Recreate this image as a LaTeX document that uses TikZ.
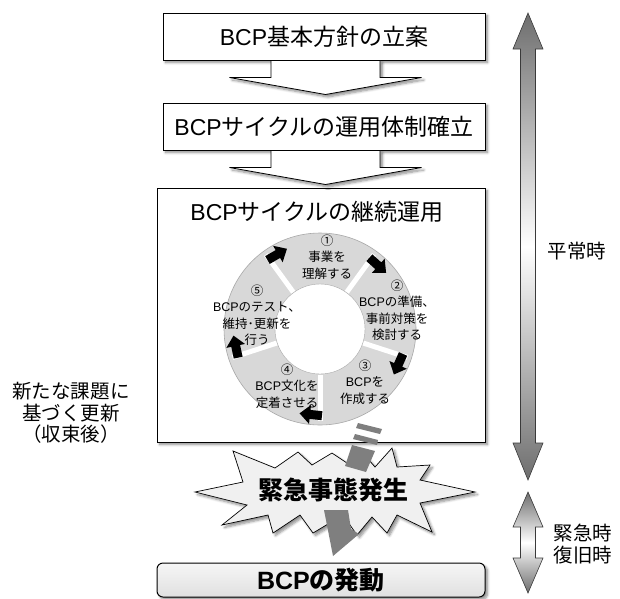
\documentclass[tikz,border=0pt]{standalone}
\usepackage{fontspec}
\setmainfont{Noto Sans CJK JP}
\newfontfamily\latf{Liberation Sans}
\newcommand\bcpword{{\latf BCP}}
\usetikzlibrary{shadows,shadows.blur,calc}
\definecolor{ringgray}{HTML}{D8D8D8}
\definecolor{ringedge}{HTML}{A8A8A8}
\definecolor{boltgray}{HTML}{7F7F7F}
\definecolor{arrowdark}{HTML}{6E6E6E}
\definecolor{arrowedge}{HTML}{3A3A3A}
\definecolor{starfill}{HTML}{F0F0F0}
\definecolor{bfourtop}{HTML}{F6F6F6}
\definecolor{bfourbot}{HTML}{E0E0E0}
\tikzset{
  myshadow/.style={blur shadow={shadow xshift=2.5pt,shadow yshift=-2.5pt,
    shadow blur radius=2.5pt, shadow blur steps=6, shadow opacity=45}},
  box/.style={draw=black, line width=1pt, fill=white, myshadow, minimum width=322pt,
    minimum height=47pt, inner sep=0pt, font=\fontsize{23}{27}\selectfont},
  chev/.style={draw=black, line width=0.8pt, fill=white, myshadow},
  ringtxt/.style={align=center, font=\fontsize{12.5}{16.5}\selectfont, inner sep=0pt},
  sidelbl/.style={align=center, font=\fontsize{19.5}{21.5}\selectfont, inner sep=0pt},
  bolt/.style={fill=boltgray, draw=none},
  blockarrow/.style={fill=black},
  timearrow/.style={draw=arrowedge, line width=0.6pt, top color=arrowdark,
    bottom color=arrowdark, middle color=white},
}
\begin{document}
\begin{tikzpicture}[x=1pt,y=1pt]
\useasboundingbox (0,0) rectangle (620,-598);

% boxes
\node[box] (b1) at (324,-36.5) {\bcpword 基本方針の立案};
\node[box] (b2) at (324,-126.5) {\bcpword サイクルの運用体制確立};
\node[box, minimum width=328pt, minimum height=254pt] (b3) at (321,-315) {};
\node[inner sep=0pt, font=\fontsize{23}{27}\selectfont] (b3t) at (317,-212) {\bcpword サイクルの継続運用};

% chevrons
\coordinate (c1) at ($(b1.south)+(1.5,0)$);
\draw[chev] ($(c1)+(-54.5,0)$) -- ++(0,-17) -- ++(-41.5,0) -- ($(c1)+(0,-34)$)
  -- ($(c1)+(96,-17)$) -- ($(c1)+(54.5,-17)$) -- ($(c1)+(54.5,0)$) -- cycle;
\coordinate (c2) at ($(b2.south)+(1.5,0)$);
\draw[chev] ($(c2)+(-54.5,0)$) -- ++(0,-17) -- ++(-41.5,0) -- ($(c2)+(0,-34)$)
  -- ($(c2)+(96,-17)$) -- ($(c2)+(54.5,-17)$) -- ($(c2)+(54.5,0)$) -- cycle;

% ring
\coordinate (rc) at (320,-329);
\begin{scope}[shift={(rc)}]
  \draw[fill=ringgray, draw=ringedge, line width=0.6pt] (0,0) circle (96);
  \draw[fill=white, draw=ringedge, line width=0.4pt] (0,0) circle (45);
  \foreach \a in {-90,-18,54,126,198}
    \draw[white, line width=5pt] (\a:45.5) -- (\a:92);
  \foreach \a in {-96,-24,48,120,192}
    \fill[blockarrow, shift={(\a:86)}, rotate=\a-90]
      (-11,-4.5) -- (1,-4.5) -- (1,-9.5) -- (11.5,0) -- (1,9.5) -- (1,4.5) -- (-11,4.5) -- cycle;
\end{scope}
\node[ringtxt] (s1) at (327,-257) {①\\事業を\\理解する};
\node[ringtxt] (s2) at (397,-310) {②\\\bcpword の準備、\\事前対策を\\検討する};
\node[ringtxt] (s3) at (365,-382) {③\\\bcpword を\\作成する};
\node[ringtxt] (s4) at (287,-386) {④\\\bcpword 文化を\\定着させる};
\node[ringtxt] (s5) at (257,-315) {⑤\\\bcpword のテスト、\\維持･更新を\\行う};

% star
\draw[fill=starfill, draw=black, line width=0.7pt, myshadow]
  (195,-492) -- (243,-482) -- (233,-451) -- (275,-468) -- (298,-452) -- (312,-465)
  -- (332,-453) -- (347,-463) -- (362,-452) -- (375,-467) -- (392,-448) -- (397,-467)
  -- (430,-465) -- (420,-480) -- (475,-492) -- (420,-503) -- (432,-532) -- (397,-515)
  -- (387,-533) -- (372,-517) -- (357,-535) -- (343,-515) -- (313,-533) -- (300,-515)
  -- (273,-533) -- (268,-515) -- (222,-525) -- (247,-505) -- cycle;

% lightning bolt
\fill[bolt] (358,-423) -- (382,-429) -- (380,-434) -- (356,-428) -- cycle;
\fill[bolt] (355,-434) -- (378,-440) -- (377,-445) -- (353,-439) -- cycle;
\fill[bolt] (352,-445) -- (375,-451) -- (366,-472) -- (345,-466) -- cycle;
\fill[bolt] (324,-510) -- (348,-510) -- (351,-529) -- (359,-534) -- (333,-556) -- cycle;

\node[inner sep=0pt, font=\bfseries\fontsize{25}{30}\selectfont] (st) at (333,-490) {緊急事態発生};

% final box
\node[draw=black, line width=1pt, rounded corners=6pt, top color=bfourtop, bottom color=bfourbot,
  myshadow, minimum width=328pt, minimum height=34pt, inner sep=0pt,
  font=\bfseries\fontsize{25}{30}\selectfont] (b4) at (321,-580) {\bcpword の発動};

% time arrows
\draw[timearrow] (528,-13) -- (543,-49) -- (535.5,-49) -- (535.5,-443) -- (543,-443)
  -- (528,-480) -- (513,-443) -- (520.5,-443) -- (520.5,-49) -- (513,-49) -- cycle;
\draw[timearrow] (528,-492) -- (543,-527) -- (535.5,-527) -- (535.5,-558) -- (543,-558)
  -- (528,-593) -- (513,-558) -- (520.5,-558) -- (520.5,-527) -- (513,-527) -- cycle;

\node[sidelbl] (t1) at (577,-251) {平常時};
\node[sidelbl] (t2) at (583,-544) {緊急時\\復旧時};
\node[sidelbl] (lt) at (71,-413) {新たな課題に\\基づく更新\\（収束後）};
\end{tikzpicture}
\end{document}
